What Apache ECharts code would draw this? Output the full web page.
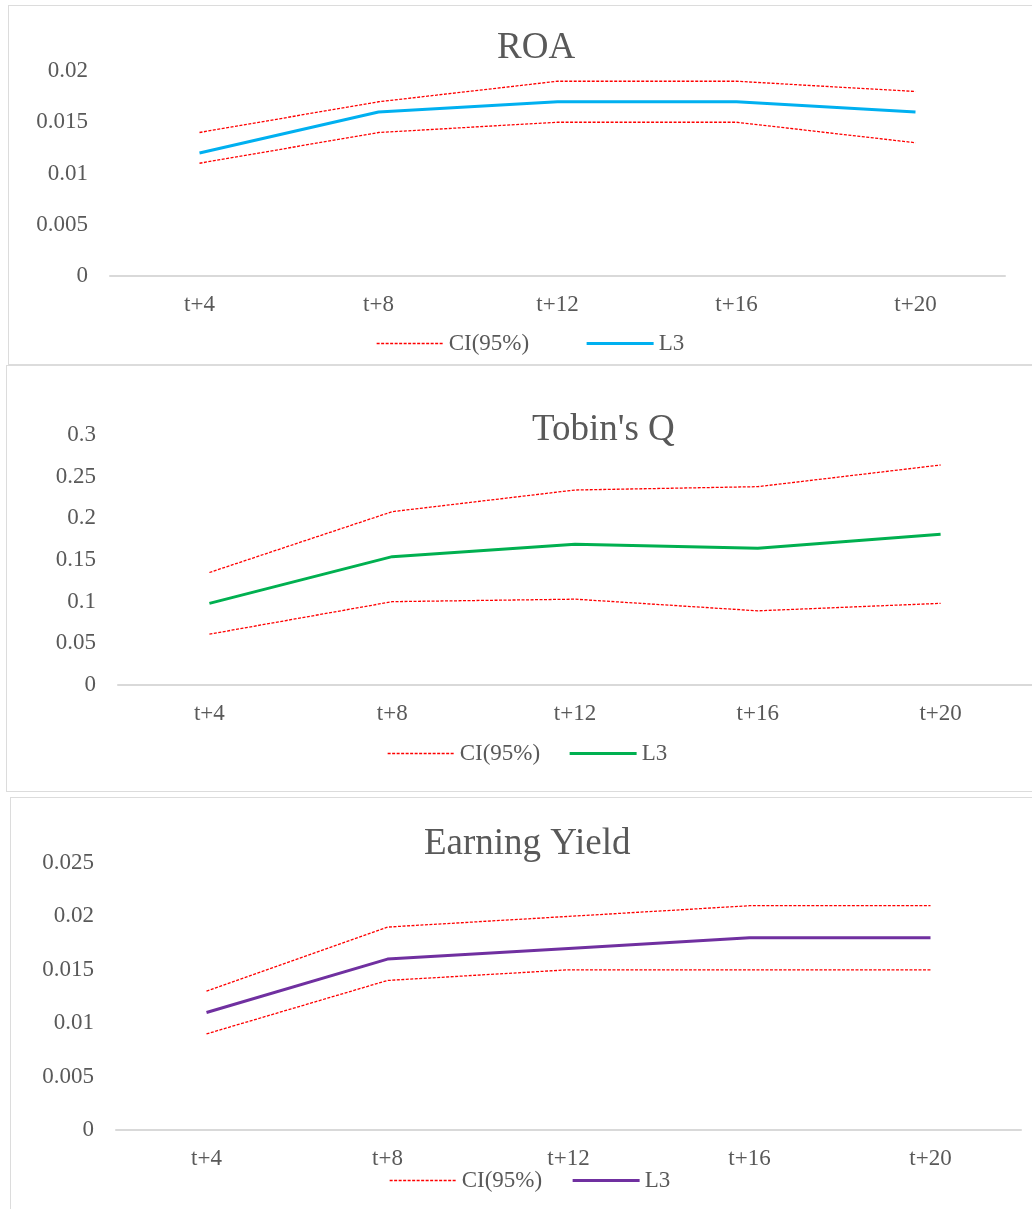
<!DOCTYPE html>
<html>
<head>
<meta charset="utf-8">
<script src="https://cdn.jsdelivr.net/npm/echarts@6/dist/echarts.min.js"></script>
<style>
  html, body { margin: 0; padding: 0; background: #ffffff; width: 1032px; height: 1209px; overflow: hidden; }
  .chart { position: absolute; left: 0; width: 1032px; }
  .frame { position: absolute; border: 1.5px solid #dcdcdc; box-sizing: border-box; pointer-events: none; }
</style>
</head>
<body>
<div id="c1" class="chart" style="top:0px;height:364px;"></div>
<div id="c2" class="chart" style="top:365px;height:426px;"></div>
<div id="c3" class="chart" style="top:797px;height:412px;"></div>
<div class="frame" style="left:8px;top:5px;width:1040px;height:360px;"></div>
<div class="frame" style="left:6px;top:365px;width:1040px;height:427px;"></div>
<div class="frame" style="left:10px;top:797px;width:1040px;height:430px;"></div>
<script>
// ---- data ----
const categories = ['t+4', 't+8', 't+12', 't+16', 't+20'];

const roaUpper = [0.014, 0.017, 0.019, 0.019, 0.018];
const roaL3    = [0.012, 0.016, 0.017, 0.017, 0.016];
const roaLower = [0.011, 0.014, 0.015, 0.015, 0.013];

const tobinUpper = [0.135, 0.208, 0.234, 0.238, 0.264];
const tobinL3    = [0.098, 0.154, 0.169, 0.164, 0.181];
const tobinLower = [0.061, 0.100, 0.103, 0.089, 0.098];

const eyUpper = [0.013, 0.019, 0.020, 0.021, 0.021];
const eyL3    = [0.011, 0.016, 0.017, 0.018, 0.018];
const eyLower = [0.009, 0.014, 0.015, 0.015, 0.015];

const seriesNames = ['CI(95%)', 'L3'];

// ---- styles ----
const FONT = 'Liberation Serif, Times New Roman, serif';
const TXT = '#595959';
const RED = '#FF0000';

function makeOption(cfg) {
  const ciStyle = { color: RED, width: 1.3, type: [3, 1.5] };
  const midStyle = { color: cfg.color, width: 3 };
  return {
    animation: false,
    backgroundColor: 'transparent',
    title: {
      text: cfg.title,
      left: cfg.titleLeft,
      top: cfg.titleTop,
      padding: 0,
      textStyle: { fontFamily: FONT, fontSize: 37, fontWeight: 'normal', color: TXT }
    },
    legend: {
      left: cfg.legendLeft,
      top: cfg.legendTop,
      padding: 0,
      itemWidth: 67,
      itemHeight: 14,
      itemGap: cfg.legendGap,
      itemStyle: { opacity: 0 },
      data: [
        { name: seriesNames[0], itemStyle: { opacity: 0 }, lineStyle: ciStyle },
        { name: seriesNames[1], itemStyle: { opacity: 0 }, lineStyle: midStyle }
      ],
      textStyle: { fontFamily: FONT, fontSize: 23, color: TXT }
    },
    grid: { left: cfg.gridLeft, top: cfg.gridTop, width: cfg.gridWidth, height: cfg.gridHeight, containLabel: false },
    xAxis: {
      type: 'category',
      data: categories,
      boundaryGap: true,
      axisLine: { show: true, lineStyle: { color: '#d9d9d9', width: 2 } },
      axisTick: { show: false },
      axisLabel: { fontFamily: FONT, fontSize: 23, color: TXT, margin: 17 }
    },
    yAxis: {
      type: 'value',
      min: 0,
      max: cfg.yMax,
      interval: cfg.yInterval,
      axisLine: { show: false },
      axisTick: { show: false },
      splitLine: { show: false },
      axisLabel: { fontFamily: FONT, fontSize: 23, color: TXT, margin: 22 }
    },
    series: [
      { name: seriesNames[0], type: 'line', data: cfg.upper, symbol: 'none', lineStyle: ciStyle, itemStyle: { color: RED }, z: 2 },
      { name: seriesNames[0], type: 'line', data: cfg.lower, symbol: 'none', lineStyle: ciStyle, itemStyle: { color: RED }, z: 2 },
      { name: seriesNames[1], type: 'line', data: cfg.mid, symbol: 'none', lineStyle: midStyle, itemStyle: { color: cfg.color }, z: 3 }
    ]
  };
}

const c1 = echarts.init(document.getElementById('c1'));
c1.setOption(makeOption({
  title: 'ROA', titleLeft: 497, titleTop: 30,
  legendLeft: 376, legendTop: 332, legendGap: 56,
  gridLeft: 110, gridTop: 71, gridWidth: 895, gridHeight: 205,
  yMax: 0.02, yInterval: 0.005,
  upper: roaUpper, mid: roaL3, lower: roaLower, color: '#00B0F0'
}));

const c2 = echarts.init(document.getElementById('c2'));
c2.setOption(makeOption({
  title: "Tobin's Q", titleLeft: 532, titleTop: 47,
  legendLeft: 387, legendTop: 377, legendGap: 28,
  gridLeft: 118, gridTop: 70, gridWidth: 925, gridHeight: 250,
  yMax: 0.3, yInterval: 0.05,
  upper: tobinUpper, mid: tobinL3, lower: tobinLower, color: '#00B050'
}));

const c3 = echarts.init(document.getElementById('c3'));
c3.setOption(makeOption({
  title: 'Earning Yield', titleLeft: 424, titleTop: 29,
  legendLeft: 389, legendTop: 372, legendGap: 29,
  gridLeft: 116, gridTop: 66, gridWidth: 905, gridHeight: 267,
  yMax: 0.025, yInterval: 0.005,
  upper: eyUpper, mid: eyL3, lower: eyLower, color: '#7030A0'
}));
</script>
</body>
</html>
